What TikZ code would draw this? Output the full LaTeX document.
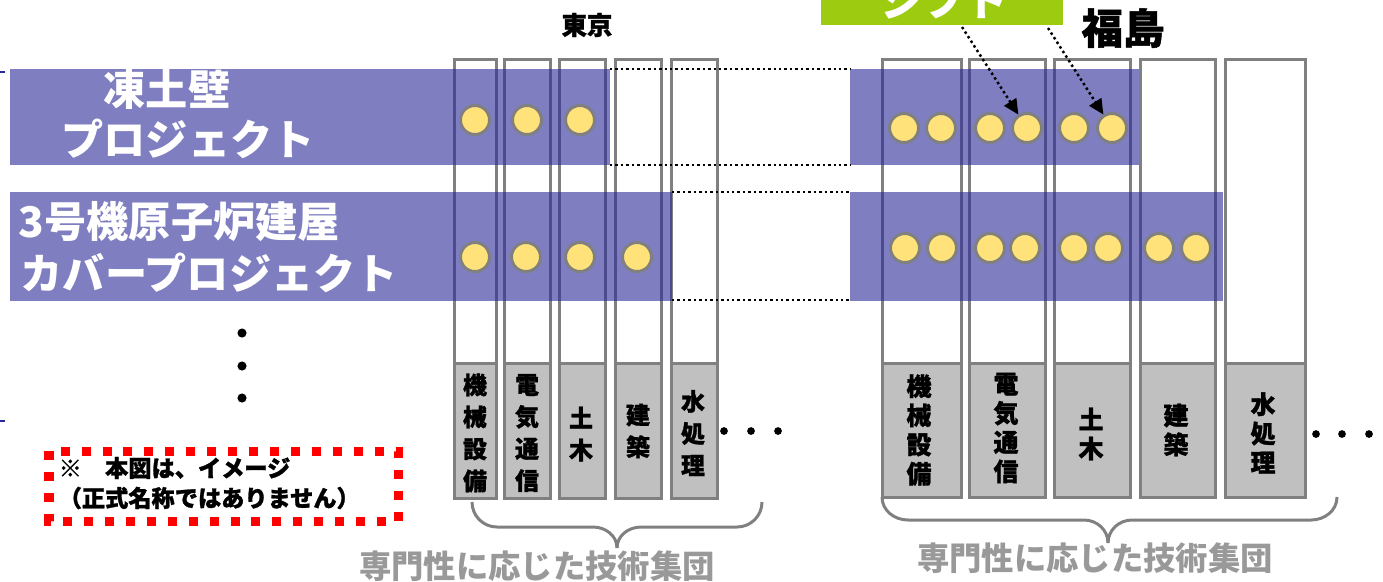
\documentclass[tikz,border=0pt]{standalone}
\usepackage{fontspec}
\newfontfamily\jp{Noto Sans CJK JP}
\newfontfamily\jph{Noto Sans CJK JP}[BoldFeatures={FakeBold=1.2}]
\usetikzlibrary{arrows.meta}
\definecolor{colline}{HTML}{808080}
\definecolor{colfill}{HTML}{C0C0C0}
\definecolor{bandblue}{RGB}{40,40,150}
\definecolor{dotyellow}{HTML}{FFE27A}
\definecolor{shiftgreen}{HTML}{9DCB0F}
\definecolor{labgray}{HTML}{999999}
\begin{document}
\begin{tikzpicture}[x=0.01cm,y=-0.01cm,
  colbox/.style={draw=colline,line width=0.85pt},
  band/.style={fill=bandblue,fill opacity=0.6},
  ball/.style={circle,draw=colline,fill=dotyellow,line width=0.85pt,minimum size=0.29cm,inner sep=0pt},
  dots/.style={black,line width=0.7pt,dash pattern=on 0.7pt off 0.85pt},
  arr/.style={dots,-{Triangle[length=4.3pt,width=4pt]}},
  projtxt/.style={text=white,font=\jp\bfseries\fontsize{12}{14}\selectfont,inner sep=0pt},
  coltxt/.style={font=\jph\bfseries\fontsize{6.8}{9.1}\selectfont,align=center,inner sep=0pt},
  colftxt/.style={font=\jph\bfseries\fontsize{7.1}{8.3}\selectfont,align=center,inner sep=0pt},
  grouptxt/.style={text=labgray,font=\jp\bfseries\fontsize{9.2}{11}\selectfont,inner sep=0pt},
  notetxt/.style={font=\jph\bfseries\fontsize{6.6}{8}\selectfont,inner sep=0pt,anchor=west},
  brace/.style={draw=colline,line width=0.85pt},
  ell/.style={circle,fill=black,inner sep=0pt,minimum size=2.2pt}]
\useasboundingbox (0,0) rectangle (1383,581);
\clip (0,0) rectangle (1383,581);

% left edge fragments
\draw[bandblue,line width=0.6pt] (0,72) -- (5,72);
\draw[bandblue,line width=0.6pt] (0,421) -- (5,421);

% columns Tokyo
\foreach \a/\b in {454/496, 504/550, 559/605, 615/661, 671/717}{
  \fill[white] (\a,59) rectangle (\b,363);
  \fill[colfill] (\a,363) rectangle (\b,498);
  \draw[colbox] (\a,59) rectangle (\b,498);
  \draw[colbox] (\a,363) -- (\b,363);
}
% columns Fukushima
\foreach \a/\b in {882/961, 969/1045, 1054/1130, 1140/1215, 1225/1305}{
  \fill[white] (\a,59) rectangle (\b,363);
  \fill[colfill] (\a,363) rectangle (\b,497);
  \draw[colbox] (\a,59) rectangle (\b,497);
  \draw[colbox] (\a,363) -- (\b,363);
}

% project bands
\fill[band] (10,69) rectangle (610,165);
\fill[band] (10,192) rectangle (672,301);
\fill[band] (850,69) rectangle (1139,165);
\fill[band] (850,192) rectangle (1223,301);

% dotted links
\draw[dots] (610,69) -- (850,69);
\draw[dots] (610,165) -- (850,165);
\draw[dots] (672,192) -- (850,192);
\draw[dots] (672,300) -- (850,300);

% balls Tokyo
\node[ball] (t11) at (475,120) {};
\node[ball] (t12) at (527,120) {};
\node[ball] (t13) at (580,120) {};
\node[ball] (t21) at (475,257) {};
\node[ball] (t22) at (526,257) {};
\node[ball] (t23) at (580,257) {};
\node[ball] (t24) at (637,257) {};
% balls Fukushima
\node[ball] (f11) at (904,128) {};
\node[ball] (f12) at (941,128) {};
\node[ball] (f13) at (990,128) {};
\node[ball] (f14) at (1027,128) {};
\node[ball] (f15) at (1074,128) {};
\node[ball] (f16) at (1112,128) {};
\node[ball] (f21) at (905,248) {};
\node[ball] (f22) at (942,248) {};
\node[ball] (f23) at (990,248) {};
\node[ball] (f24) at (1025,248) {};
\node[ball] (f25) at (1074,248) {};
\node[ball] (f26) at (1108,248) {};
\node[ball] (f27) at (1159,248) {};
\node[ball] (f28) at (1196,248) {};

% shift box
\fill[shiftgreen] (821,-5) rectangle (1063,25);
\node[text=white,font=\jp\bfseries\fontsize{12}{14}\selectfont,inner sep=0pt] (shift) at (944,1) {シフト};
\coordinate (s1) at (962,27);
\coordinate (s2) at (1048,28);
\draw[arr] (s1) -- (f14);
\draw[arr] (s2) -- (f16);

% titles
\node[font=\jph\bfseries\fontsize{7.2}{9}\selectfont,inner sep=0pt] (tokyo) at (587,25) {東京};
\node[font=\jph\bfseries\fontsize{11.8}{14}\selectfont,inner sep=0pt] (fuku) at (1123,28) {福島};

% project labels
\node[projtxt] (p1a) at (167,89) {凍土壁};
\node[projtxt] (p1b) at (188,139) {プロジェクト};
\node[projtxt,anchor=west] (p2a) at (18,222) {3号機原子炉建屋};
\node[projtxt,anchor=west] (p2b) at (20,273) {カバープロジェクト};

% column labels Tokyo
\node[coltxt] (tl1) at (475,433) {機\\械\\設\\備};
\node[coltxt] (tl2) at (527,433) {電\\気\\通\\信};
\node[coltxt] (tl3) at (581,434) {土\\木};
\node[coltxt] (tl4) at (638,431) {建\\築};
\node[coltxt] (tl5) at (693,433) {水\\処\\理};
% column labels Fukushima
\node[colftxt] (fl1) at (919,430) {機\\械\\設\\備};
\node[colftxt] (fl2) at (1006,428) {電\\気\\通\\信};
\node[colftxt] (fl3) at (1091,434) {土\\木};
\node[colftxt] (fl4) at (1176,430) {建\\築};
\node[colftxt] (fl5) at (1263,433) {水\\処\\理};

% ellipses
\node[ell,minimum size=2.6pt] (v1) at (242,333) {};
\node[ell,minimum size=2.6pt] (v2) at (242,366) {};
\node[ell,minimum size=2.6pt] (v3) at (242,398) {};
\node[ell] (te1) at (724,431) {};
\node[ell] (te2) at (751,431) {};
\node[ell] (te3) at (778,431) {};
\node[ell] (fe1) at (1316,434) {};
\node[ell] (fe2) at (1342,434) {};
\node[ell] (fe3) at (1369,434) {};

% braces
\draw[brace] (472,502) to[out=-90,in=180] (497,527) -- (593,527) to[out=0,in=90] (617,548);
\draw[brace] (617,548) to[out=90,in=180] (641,527) -- (737,527) to[out=0,in=-90] (762,502);
\draw[brace] (882,497) to[out=-90,in=180] (908,520) -- (1084,520) to[out=0,in=90] (1108,543);
\draw[brace] (1108,543) to[out=90,in=180] (1132,520) -- (1311,520) to[out=0,in=-90] (1337,497);

\node[grouptxt] (g1) at (537,566) {専門性に応じた技術集団};
\node[grouptxt] (g2) at (1095,558) {専門性に応じた技術集団};

% note box
\draw[red,line width=2.56pt,dash pattern=on 2.56pt off 3.4pt] (49,451) rectangle (398,521);
\node[notetxt] (n1) at (58,468) {※　本図は、イメージ};
\node[notetxt] (n2) at (58,498) {（正式名称ではありません）};
\end{tikzpicture}
\end{document}
